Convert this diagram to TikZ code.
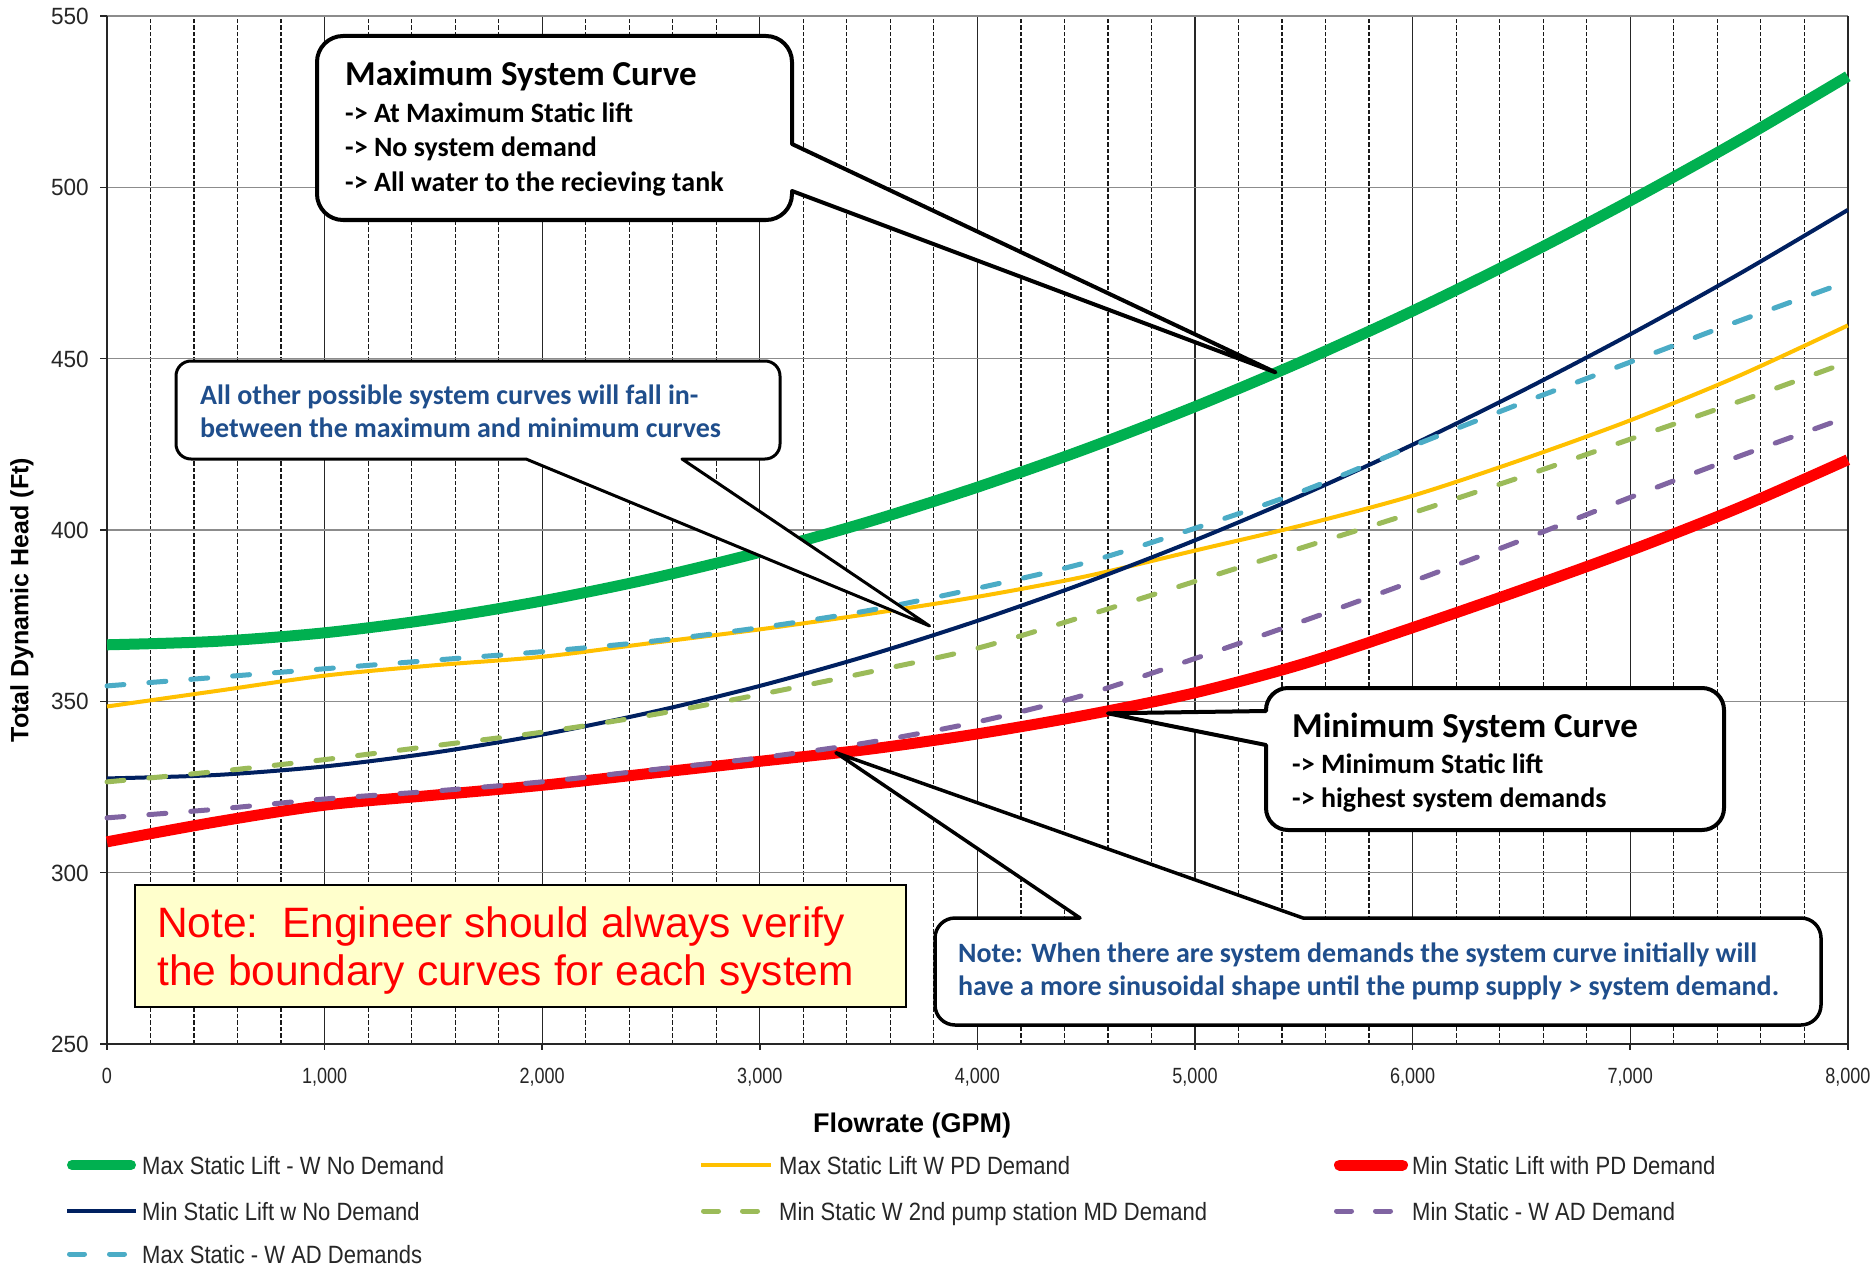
\documentclass[tikz,border=0pt]{standalone}
\usepackage{fontspec}
\setmainfont{Liberation Sans}
\newfontfamily\xtickfont[FakeStretch=0.82]{Liberation Sans}
\newfontfamily\ytickfont[FakeStretch=0.96]{Liberation Sans}
\newfontfamily\legfont[FakeStretch=0.88]{Liberation Sans}
\newfontfamily\axtitlefont[FakeStretch=1.0]{Liberation Sans}
\newfontfamily\calfont{Carlito}
\definecolor{cgreen}{HTML}{00B050}
\definecolor{cyellow}{HTML}{FFC000}
\definecolor{cred}{HTML}{FF0000}
\definecolor{cnavy}{HTML}{002060}
\definecolor{ccyan}{HTML}{4BACC6}
\definecolor{cgdash}{HTML}{9BBB59}
\definecolor{cpurple}{HTML}{8064A2}
\definecolor{cblue}{HTML}{1F4E8C}
\definecolor{cnote}{HTML}{FFFFCC}
\definecolor{gridgray}{HTML}{8C8C8C}
\definecolor{txtdark}{HTML}{262626}
\begin{document}
\begin{tikzpicture}[x=1pt,y=-1pt,
  majorgrid/.style={black!85, line width=1.3pt},
  minorgrid/.style={black!90, line width=1.2pt, dash pattern=on 4.5pt off 2pt},
  hgrid/.style={gridgray, line width=1.5pt},
  axisline/.style={black!85, line width=1.6pt},
  greenc/.style={cgreen, line width=11pt},
  yellowc/.style={cyellow, line width=4pt},
  redc/.style={cred, line width=11pt},
  navyc/.style={cnavy, line width=4pt},
  dashc/.style={line width=5pt, dash pattern=on 17pt off 25pt, line cap=round},
  gdashc/.style={dashc, cgdash},
  purplec/.style={dashc, cpurple},
  cyanc/.style={dashc, ccyan},
  ytick/.style={font=\ytickfont\fontsize{23.5}{28}\selectfont, text=txtdark, inner sep=0pt, anchor=base east},
  xtick/.style={font=\xtickfont\fontsize{22}{26}\selectfont, text=txtdark, inner sep=0pt, anchor=base},
  axtitle/.style={font=\axtitlefont\bfseries\fontsize{25}{30}\selectfont, text=black, inner sep=0pt},
  legtext/.style={font=\legfont\fontsize{25}{30}\selectfont, text=txtdark, inner sep=0pt, anchor=base west},
  calloutbox/.style={draw=black, fill=white, line join=round},
  caltitle/.style={font=\calfont\bfseries\fontsize{35}{42}\selectfont, text=black, inner sep=0pt, anchor=base west},
  calsub/.style={font=\calfont\bfseries\fontsize{28}{34}\selectfont, text=black, inner sep=0pt, anchor=base west},
  calblue/.style={font=\calfont\bfseries\fontsize{28}{34}\selectfont, text=cblue, inner sep=0pt, anchor=base west},
  notetext/.style={font=\fontsize{42.5}{50}\selectfont, text=cred, inner sep=0pt, anchor=base west}
]
\useasboundingbox (0,0) rectangle (1876,1268);
\fill[white] (0,0) rectangle (1876,1268);

% ---------- plot area in data units (GPM/1000, ft-250) ----------
\begin{scope}[shift={(107,1044)}, x={(217.6pt,0pt)}, y={(0pt,3.4267pt)}]
  % vertical grid
  \foreach \i in {1,...,39}{
    \pgfmathtruncatemacro\m{mod(\i,5)}
    \ifnum\m=0
      \draw[majorgrid] (\i*0.2,0) -- (\i*0.2,300);
    \else
      \draw[minorgrid] (\i*0.2,0) -- (\i*0.2,300);
    \fi
  }
  % horizontal grid
  \foreach \f in {50,100,...,300} \draw[hgrid] (0,\f) -- (8,\f);
  % axes
  \draw[axisline] (8,0) -- (8,300);
  \draw[axisline] (0,300) -- (0,0) -- (8,0);
  \foreach \f in {0,50,...,300} \draw[axisline] (0,\f) -- ++(-7pt,0);
  \foreach \q in {0,...,8} \draw[axisline] (\q,0) -- ++(0,-6pt);
  % tick labels
  \foreach \f in {0,50,...,300}{
    \pgfmathtruncatemacro\lab{\f+250}
    \node[ytick, xshift=-18pt, yshift=-8.5pt] (yl\lab) at (0,\f) {\lab};
  }
  \node[xtick, yshift=-39pt] (xl0) at (0,0) {0};
  \foreach \q in {1,...,8}
    \node[xtick, yshift=-39pt] (xl\q) at (\q,0) {\q,000};

  % curves
  \draw[greenc] plot[smooth] coordinates {(0,116.5) (0.5,117.5) (1,120.0) (1.5,124.0) (2,129.3) (2.5,135.8) (3,143.5) (3.5,152.4) (4,162.5) (4.5,173.7) (5,186.0) (5.5,199.4) (6,213.9) (6.5,229.5) (7,246.1) (7.5,263.7) (8,282.4)};
  \draw[yellowc] plot[smooth] coordinates {(0,98.5) (0.5,103) (1,107.5) (1.5,110.5) (2,113) (2.5,117) (3,121) (3.5,125.5) (4,130.5) (4.5,136.5) (5,144) (5.5,151.5) (6,160) (6.5,170.5) (7,182) (7.5,195) (8,209.7)};
  \draw[redc] plot[smooth] coordinates {(0,59) (0.5,64.8) (1,69.7) (1.5,72.6) (2,75.5) (2.5,79) (3,82.5) (3.5,86) (4,90.5) (4.5,96) (5,102.5) (5.5,111) (6,121.5) (6.5,132.5) (7,144) (7.5,156.5) (8,170.5)};
  \draw[navyc] plot[smooth] coordinates {(0,77.5) (0.5,78.5) (1,81.0) (1.5,85.0) (2,90.3) (2.5,96.8) (3,104.5) (3.5,113.4) (4,123.5) (4.5,134.7) (5,147.0) (5.5,160.4) (6,174.9) (6.5,190.5) (7,207.1) (7.5,224.7) (8,243.4)};
  \draw[gdashc] plot[smooth] coordinates {(0,76.5) (0.5,79.5) (1,83) (1.5,87) (2,91) (2.5,96) (3,102) (3.5,108.5) (4,115.5) (4.5,125) (5,135) (5.5,145) (6,155) (6.5,165.5) (7,176.5) (7.5,187.5) (8,199)};
  \draw[purplec] plot[smooth] coordinates {(0,66) (0.5,68.5) (1,71.5) (1.5,73.8) (2,76.5) (2.5,80) (3,83.5) (3.5,88) (4,94) (4.5,102) (5,112.5) (5.5,123.5) (6,135) (6.5,147) (7,159.5) (7.5,171.5) (8,183)};
  \draw[cyanc] plot[smooth] coordinates {(0,104.5) (0.5,107) (1,109.5) (1.5,112) (2,114.5) (2.5,117.5) (3,121.5) (3.5,126.5) (4,133) (4.5,140.5) (5,150.5) (5.5,161.5) (6,174.5) (6.5,187) (7,199) (7.5,211) (8,222.5)};

  % callout tips
  \coordinate (tipA) at (5.37,196);
  \coordinate (tipB) at (3.78,122);
  \coordinate (tipC) at (4.6,96.5);
  \coordinate (tipD) at (3.35,85);
\end{scope}

% ---------- axis titles ----------
\node[axtitle, anchor=base, font=\axtitlefont\bfseries\fontsize{27}{32}\selectfont] (xtitle) at (912,1132) {Flowrate (GPM)};
\node[axtitle, rotate=90] (ytitle) at (22,600) {Total Dynamic Head (Ft)};

% ---------- callouts ----------
\draw[calloutbox, line width=4pt] (792,191) -- (tipA) -- (792,144) [rounded corners=26pt] -- (792,36) -- (317,36) -- (317,220) -- (792,220) [sharp corners] -- cycle;
\node[caltitle] (c1t) at (345,86) {Maximum System Curve};
\node[calsub] (c1a) at (345,123) {-> At Maximum Static lift};
\node[calsub] (c1b) at (345,157) {-> No system demand};
\node[calsub] (c1c) at (345,192) {-> All water to the recieving tank};

\draw[calloutbox, line width=3pt] (682,459) -- (tipB) -- (526,459) [rounded corners=15pt] -- (176,459) -- (176,361) -- (780,361) -- (780,459) [sharp corners] -- cycle;
\node[calblue] (c2a) at (200,404) {All other possible system curves will fall in-};
\node[calblue] (c2b) at (200,437) {between the maximum and minimum curves};

\draw[calloutbox, line width=4pt] (1266,745) -- (tipC) -- (1266,711) [rounded corners=22pt] -- (1266,688) -- (1724,688) -- (1724,830) -- (1266,830) [sharp corners] -- cycle;
\node[caltitle] (c3t) at (1292,737) {Minimum System Curve};
\node[calsub] (c3a) at (1292,773) {-> Minimum Static lift};
\node[calsub] (c3b) at (1292,807) {-> highest system demands};

\draw[calloutbox, line width=3.5pt] (1303,918) -- (tipD) -- (1080,918) [rounded corners=20pt] -- (935,918) -- (935,1025) -- (1821,1025) -- (1821,918) [sharp corners] -- cycle;
\node[calblue] (c4a) at (958,962) {Note: When there are system demands the system curve initially will};
\node[calblue] (c4b) at (958,995) {have a more sinusoidal shape until the pump supply > system demand.};

% ---------- note box ----------
\draw[fill=cnote, draw=black, line width=1.5pt] (135,885) rectangle (906,1007);
\node[notetext] (n1) at (157,937) {Note:\ \ Engineer should always verify};
\node[notetext] (n2) at (157,985) {the boundary curves for each system};

% ---------- legend ----------
\draw[greenc, line cap=round, line width=10pt] (72,1165) -- (131,1165);
\node[legtext] (lg1) at (142,1174) {Max Static Lift - W No Demand};
\draw[yellowc, line width=4.5pt] (701,1165) -- (771,1165);
\node[legtext] (lg2) at (779,1174) {Max Static Lift W PD Demand};
\draw[redc, line cap=round, line width=11pt] (1339.5,1165) -- (1402.5,1165);
\node[legtext] (lg3) at (1412,1174) {Min Static Lift with PD Demand};

\draw[navyc, line width=4.5pt] (67,1211) -- (136,1211);
\node[legtext] (lg4) at (142,1220) {Min Static Lift w No Demand};
\draw[gdashc, dash pattern=on 15pt off 24pt] (703.5,1211) -- (757.5,1211);
\node[legtext] (lg5) at (779,1220) {Min Static W 2nd pump station MD Demand};
\draw[purplec, dash pattern=on 15pt off 24pt] (1336.5,1211) -- (1390.5,1211);
\node[legtext] (lg6) at (1412,1220) {Min Static - W AD Demand};

\draw[cyanc, dash pattern=on 15pt off 25pt] (69.5,1254) -- (124.5,1254);
\node[legtext] (lg7) at (142,1263) {Max Static - W AD Demands};
\end{tikzpicture}
\end{document}
